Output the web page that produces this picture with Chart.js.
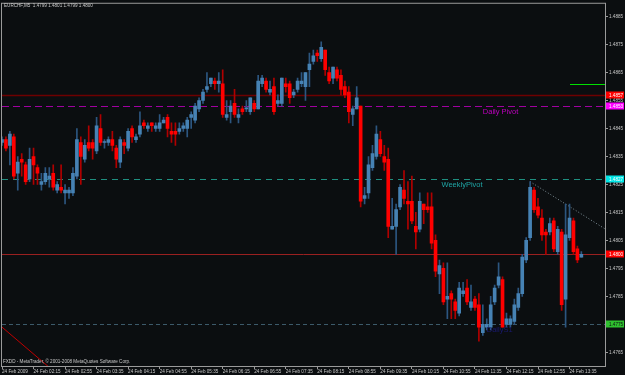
<!DOCTYPE html>
<html>
<head>
<meta charset="utf-8">
<script src="https://cdn.jsdelivr.net/npm/chart.js@4.4.1/dist/chart.umd.min.js"></script>
<style>
  html, body { margin: 0; padding: 0; background: #0b0e10; }
</style>
</head>
<body>
<canvas id="chart" width="625" height="375"></canvas>
<script>
// EURCHF M5, 24 Feb 2009 - one bar every 5 minutes starting at 01:35
const opens = [
  1.4840, 1.4841, 1.4839, 1.4842, 1.4829, 1.4834, 1.4832, 1.4827, 1.4835, 1.4831,
  1.4825, 1.4826, 1.4827, 1.4829, 1.4823, 1.4824, 1.4822, 1.4822, 1.4822, 1.4828,
  1.4840, 1.4834, 1.4840, 1.4840, 1.4837, 1.4845, 1.4840, 1.4840, 1.4841, 1.4838,
  1.4833, 1.4840, 1.4838, 1.4845, 1.4841, 1.4843, 1.4847, 1.4845, 1.4847, 1.4845,
  1.4845, 1.4847, 1.4849, 1.4844, 1.4844, 1.4844, 1.4845, 1.4845, 1.4849, 1.4848,
  1.4852, 1.4855, 1.4859, 1.4861, 1.4862, 1.4861, 1.4861, 1.4849, 1.4851, 1.4854,
  1.4849, 1.4852, 1.4852, 1.4851, 1.4854, 1.4852, 1.4861, 1.4862, 1.4858, 1.4860,
  1.4854, 1.4854, 1.4861, 1.4861, 1.4857, 1.4859, 1.4861, 1.4860, 1.4866, 1.4869,
  1.4872, 1.4870, 1.4873, 1.4865, 1.4863, 1.4866, 1.4864, 1.4860, 1.4858, 1.4850,
  1.4852, 1.4853, 1.4820, 1.4822, 1.4831, 1.4835, 1.4841, 1.4835, 1.4834, 1.4809,
  1.4810, 1.4817, 1.4823, 1.4819, 1.4819, 1.4810, 1.4809, 1.4818, 1.4817, 1.4817,
  1.4805, 1.4793, 1.4795, 1.4784, 1.4786, 1.4783, 1.4779, 1.4786, 1.4788, 1.4781,
  1.4784, 1.4782, 1.4772, 1.4774, 1.4774, 1.4783, 1.4789, 1.4791, 1.4775, 1.4775,
  1.4776, 1.4781, 1.4786, 1.4798, 1.4806, 1.4823, 1.4817, 1.4813, 1.4808, 1.4808,
  1.4812, 1.4801, 1.4808, 1.4784, 1.4806, 1.4812, 1.4802, 1.4799
];
const highs = [
  1.4842, 1.4842, 1.4844, 1.4843, 1.4835, 1.4836, 1.4833, 1.4838, 1.4838, 1.4832,
  1.4829, 1.4831, 1.4831, 1.4832, 1.4826, 1.4832, 1.4825, 1.4824, 1.4831, 1.4845,
  1.4842, 1.4841, 1.4846, 1.4841, 1.4849, 1.4850, 1.4841, 1.4842, 1.4844, 1.4839,
  1.4842, 1.4841, 1.4845, 1.4846, 1.4843, 1.4851, 1.4848, 1.4847, 1.4847, 1.4847,
  1.4850, 1.4849, 1.4850, 1.4847, 1.4847, 1.4847, 1.4847, 1.4849, 1.4851, 1.4854,
  1.4856, 1.4859, 1.4865, 1.4863, 1.4863, 1.4865, 1.4866, 1.4855, 1.4855, 1.4859,
  1.4852, 1.4853, 1.4855, 1.4856, 1.4855, 1.4864, 1.4864, 1.4863, 1.4862, 1.4863,
  1.4857, 1.4863, 1.4863, 1.4862, 1.4859, 1.4863, 1.4865, 1.4865, 1.4872, 1.4873,
  1.4873, 1.4876, 1.4873, 1.4867, 1.4867, 1.4867, 1.4866, 1.4862, 1.4860, 1.4853,
  1.4860, 1.4853, 1.4824, 1.4835, 1.4839, 1.4846, 1.4844, 1.4839, 1.4838, 1.4820,
  1.4818, 1.4825, 1.4830, 1.4826, 1.4828, 1.4815, 1.4822, 1.4818, 1.4822, 1.4822,
  1.4807, 1.4798, 1.4797, 1.4797, 1.4787, 1.4784, 1.4790, 1.4790, 1.4791, 1.4789,
  1.4785, 1.4786, 1.4782, 1.4777, 1.4785, 1.4789, 1.4797, 1.4792, 1.4779, 1.4778,
  1.4784, 1.4788, 1.4800, 1.4806, 1.4826, 1.4824, 1.4820, 1.4816, 1.4809, 1.4813,
  1.4813, 1.4810, 1.4809, 1.4818, 1.4818, 1.4813, 1.4803, 1.4801
];
const lows = [
  1.4839, 1.4837, 1.4832, 1.4827, 1.4823, 1.4828, 1.4825, 1.4826, 1.4825, 1.4825,
  1.4823, 1.4825, 1.4824, 1.4823, 1.4822, 1.4822, 1.4818, 1.4820, 1.4821, 1.4827,
  1.4825, 1.4833, 1.4837, 1.4834, 1.4836, 1.4839, 1.4838, 1.4839, 1.4837, 1.4831,
  1.4831, 1.4836, 1.4837, 1.4840, 1.4840, 1.4842, 1.4845, 1.4844, 1.4844, 1.4844,
  1.4844, 1.4847, 1.4842, 1.4840, 1.4839, 1.4843, 1.4844, 1.4842, 1.4845, 1.4847,
  1.4851, 1.4854, 1.4858, 1.4860, 1.4859, 1.4858, 1.4849, 1.4848, 1.4847, 1.4849,
  1.4847, 1.4850, 1.4851, 1.4850, 1.4851, 1.4852, 1.4860, 1.4858, 1.4857, 1.4850,
  1.4853, 1.4853, 1.4858, 1.4854, 1.4856, 1.4858, 1.4860, 1.4855, 1.4860, 1.4868,
  1.4869, 1.4869, 1.4864, 1.4861, 1.4861, 1.4862, 1.4857, 1.4856, 1.4847, 1.4846,
  1.4852, 1.4817, 1.4818, 1.4820, 1.4830, 1.4834, 1.4835, 1.4830, 1.4806, 1.4809,
  1.4800, 1.4816, 1.4818, 1.4809, 1.4811, 1.4802, 1.4808, 1.4811, 1.4815, 1.4802,
  1.4792, 1.4786, 1.4782, 1.4777, 1.4777, 1.4777, 1.4778, 1.4785, 1.4782, 1.4780,
  1.4780, 1.4769, 1.4771, 1.4773, 1.4773, 1.4782, 1.4788, 1.4774, 1.4774, 1.4774,
  1.4775, 1.4780, 1.4785, 1.4797, 1.4805, 1.4815, 1.4813, 1.4805, 1.4800, 1.4807,
  1.4801, 1.4800, 1.4780, 1.4774, 1.4805, 1.4800, 1.4797, 1.4799
];
const closes = [
  1.4841, 1.4838, 1.4843, 1.4828, 1.4833, 1.4833, 1.4826, 1.4834, 1.4832, 1.4829,
  1.4826, 1.4829, 1.4828, 1.4824, 1.4825, 1.4823, 1.4823, 1.4823, 1.4829, 1.4841,
  1.4835, 1.4839, 1.4838, 1.4838, 1.4846, 1.4840, 1.4840, 1.4841, 1.4839, 1.4834,
  1.4841, 1.4839, 1.4844, 1.4842, 1.4842, 1.4846, 1.4846, 1.4846, 1.4846, 1.4846,
  1.4847, 1.4848, 1.4845, 1.4843, 1.4843, 1.4845, 1.4846, 1.4848, 1.4850, 1.4853,
  1.4855, 1.4858, 1.4860, 1.4863, 1.4861, 1.4862, 1.4850, 1.4850, 1.4853, 1.4850,
  1.4850, 1.4851, 1.4852, 1.4856, 1.4852, 1.4862, 1.4863, 1.4859, 1.4859, 1.4851,
  1.4855, 1.4863, 1.4860, 1.4856, 1.4858, 1.4862, 1.4862, 1.4865, 1.4868, 1.4871,
  1.4871, 1.4874, 1.4866, 1.4862, 1.4867, 1.4863, 1.4859, 1.4857, 1.4851, 1.4852,
  1.4856, 1.4819, 1.4821, 1.4832, 1.4836, 1.4843, 1.4836, 1.4833, 1.4810, 1.4810,
  1.4816, 1.4824, 1.4820, 1.4818, 1.4812, 1.4808, 1.4819, 1.4816, 1.4816, 1.4804,
  1.4794, 1.4796, 1.4783, 1.4785, 1.4784, 1.4780, 1.4788, 1.4787, 1.4783, 1.4783,
  1.4781, 1.4774, 1.4775, 1.4775, 1.4782, 1.4788, 1.4792, 1.4774, 1.4777, 1.4777,
  1.4782, 1.4786, 1.4799, 1.4805, 1.4824, 1.4816, 1.4814, 1.4807, 1.4807, 1.4811,
  1.4802, 1.4809, 1.4782, 1.4807, 1.4813, 1.4801, 1.4798, 1.4800
];

// one label every 8 bars (40 minutes)
const tickLabels = [
  "24 Feb 2009", "24 Feb 02:15", "24 Feb 02:55", "24 Feb 03:35", "24 Feb 04:15",
  "24 Feb 04:55", "24 Feb 05:35", "24 Feb 06:15", "24 Feb 06:55", "24 Feb 07:35",
  "24 Feb 08:15", "24 Feb 08:55", "24 Feb 09:35", "24 Feb 10:15", "24 Feb 10:55",
  "24 Feb 11:35", "24 Feb 12:15", "24 Feb 12:55", "24 Feb 13:35"
];
const priceTicks = [1.4765, 1.4775, 1.4785, 1.4795, 1.4805, 1.4815, 1.4825,
  1.4835, 1.4845, 1.4855, 1.4865, 1.4875, 1.4885];

// horizontal objects on the chart
const levelValues = [1.4857, 1.4853, 1.4827, 1.4800, 1.4775];
const levelNames = ["", "Daily Pivot", "WeeklyPivot", "", "DailyS1"];
const greenLevel = 1.4861;
const greenFromBar = 144;
// trend lines (two anchor bars / prices each)
const rayBars = [134, 143];
const rayPrices = [1.4826, 1.4818];
const lowTrendBars = [0, 10];
const lowTrendPrices = [1.4774, 1.4762];

const barsPerTick = 8;
const slotCount = 154; // bars + empty shift on the right

const levelStyles = [
  { line: '#6e0000', width: 1.5, dash: [], box: '#ff0000', boxText: '#ffffff' },
  { line: '#a000a0', width: 1, dash: [7, 4], box: '#ff00ff', boxText: '#ffffff', text: '#c000c0', textBar: 122 },
  { line: '#1f8f80', width: 1, dash: [6, 5], box: '#00e5e5', boxText: '#ffffff', text: '#1fa5a5', textBar: 111.5 },
  { line: '#9a2020', width: 1, dash: [], box: '#ff0000', boxText: '#ffffff' },
  { line: '#3c5a6a', width: 1, dash: [4, 3], box: '#2fc02f', boxText: '#0b0e10', text: '#1a1a70', textBar: 123 }
];

const BG = '#0b0e10';
const FRAME = '#9a9a9a';
const TXT = '#c8c8c8';
const FONT = 'Liberation Sans, Arial, sans-serif';
const BULL = '#4682b4', BEAR = '#ff0000';
const BULL_WICK = '#2c5680', BEAR_WICK = '#b00000';

const isBull = opens.map((o, i) => closes[i] >= o);
const slots = [];
for (let i = 0; i < slotCount; i++) slots.push(i);

const mtPlugin = {
  id: 'mt',
  beforeDraw(chart) {
    const ctx = chart.ctx;
    ctx.save();
    ctx.fillStyle = BG;
    ctx.fillRect(0, 0, chart.width, chart.height);
    ctx.restore();
  },
  beforeDatasetsDraw(chart) {
    const { ctx, chartArea: a, scales: { x, y } } = chart;
    ctx.save();
    ctx.beginPath();
    ctx.rect(a.left, a.top, a.right - a.left, a.bottom - a.top);
    ctx.clip();
    levelValues.forEach((v, i) => {
      const s = levelStyles[i];
      const py = Math.round(y.getPixelForValue(v)) + 0.5;
      ctx.strokeStyle = s.line;
      ctx.lineWidth = s.width;
      ctx.setLineDash(s.dash);
      ctx.beginPath();
      ctx.moveTo(a.left, py);
      ctx.lineTo(a.right, py);
      ctx.stroke();
    });
    ctx.setLineDash([]);
    // green short line
    const gy = Math.round(y.getPixelForValue(greenLevel)) + 0.5;
    ctx.strokeStyle = '#00e000';
    ctx.lineWidth = 1;
    ctx.beginPath();
    ctx.moveTo(Math.round(x.getPixelForValue(greenFromBar)), gy);
    ctx.lineTo(a.right, gy);
    ctx.stroke();
    // dotted ray from the two highs
    const x1 = x.getPixelForValue(rayBars[0]), y1 = y.getPixelForValue(rayPrices[0]);
    const x2 = x.getPixelForValue(rayBars[1]), y2 = y.getPixelForValue(rayPrices[1]);
    const k = (y2 - y1) / (x2 - x1);
    ctx.strokeStyle = '#7f9098';
    ctx.setLineDash([1, 2]);
    ctx.beginPath();
    ctx.moveTo(x1, y1);
    ctx.lineTo(a.right, y1 + k * (a.right - x1));
    ctx.stroke();
    ctx.restore();
    // red trend line bottom left (runs into the copyright line)
    const lx1 = x.getPixelForValue(lowTrendBars[0]), ly1 = y.getPixelForValue(lowTrendPrices[0]);
    const lx2 = x.getPixelForValue(lowTrendBars[1]), ly2 = y.getPixelForValue(lowTrendPrices[1]);
    const lk = (ly2 - ly1) / (lx2 - lx1);
    ctx.save();
    ctx.beginPath();
    ctx.rect(a.left, a.top, a.right - a.left, a.bottom - a.top);
    ctx.clip();
    ctx.strokeStyle = '#c00000';
    ctx.lineWidth = 1;
    ctx.beginPath();
    ctx.moveTo(a.left - 5, ly1 + lk * (a.left - 5 - lx1));
    ctx.lineTo(lx1 + (a.bottom + 10 - ly1) / lk, a.bottom + 10);
    ctx.stroke();
    ctx.restore();
  },
  afterDatasetsDraw(chart) {
    const { ctx, scales: { x, y } } = chart;
    ctx.save();
    ctx.font = '7.5px ' + FONT;
    ctx.textBaseline = 'top';
    levelValues.forEach((v, i) => {
      const s = levelStyles[i];
      if (!levelNames[i]) return;
      ctx.fillStyle = s.text;
      ctx.fillText(levelNames[i], x.getPixelForValue(s.textBar), y.getPixelForValue(v) + 2);
    });
    ctx.restore();
  },
  afterDraw(chart) {
    const { ctx, chartArea: a, scales: { y } } = chart;
    ctx.save();
    // frame
    ctx.strokeStyle = FRAME;
    ctx.lineWidth = 1;
    ctx.strokeRect(a.left - 0.5, a.top - 0.5, a.right - a.left + 1, a.bottom - a.top + 1);
    // price boxes on the axis
    ctx.font = '4.6px ' + FONT;
    ctx.textBaseline = 'middle';
    levelValues.forEach((v, i) => {
      const s = levelStyles[i];
      const py = Math.round(y.getPixelForValue(v));
      ctx.fillStyle = s.box;
      ctx.fillRect(a.right + 1, py - 3.5, 18, 7);
      ctx.fillStyle = s.boxText;
      ctx.fillText(v.toFixed(4), a.right + 4, py + 0.5);
    });
    // title and copyright
    ctx.fillStyle = TXT;
    ctx.textBaseline = 'top';
    ctx.fillText('EURCHF,M5  ' + [opens, highs, lows, closes].map(s => s[s.length - 1].toFixed(4)).join(' '), 4, 3);
    ctx.fillText('FXDD - MetaTrader, \u00a9 2001-2008 MetaQuotes Software Corp.', 3, 359);
    ctx.restore();
  }
};

new Chart(document.getElementById('chart'), {
  type: 'bar',
  data: {
    labels: slots,
    datasets: [
      {
        label: 'wick',
        data: highs.map((h, i) => [lows[i], h]),
        backgroundColor: isBull.map(b => b ? BULL_WICK : BEAR_WICK),
        barThickness: 1,
        grouped: false,
        order: 2
      },
      {
        label: 'body',
        data: opens.map((o, i) => [o, closes[i]]),
        backgroundColor: isBull.map(b => b ? BULL : BEAR),
        barThickness: 3,
        minBarLength: 1,
        grouped: false,
        order: 1
      }
    ]
  },
  plugins: [mtPlugin],
  options: {
    responsive: false,
    animation: false,
    layout: { padding: { left: 2, top: 2 } },
    plugins: { legend: { display: false }, tooltip: { enabled: false } },
    scales: {
      x: {
        offset: false,
        grid: {
          offset: false,
          drawOnChartArea: false,
          tickLength: 3,
          color: c => (c.index % barsPerTick === 0 && c.index / barsPerTick < tickLabels.length) ? FRAME : 'rgba(0,0,0,0)'
        },
        border: { display: false },
        ticks: {
          autoSkip: false,
          maxRotation: 0,
          align: 'start',
          padding: 0,
          color: TXT,
          font: { family: FONT, size: 4.6 },
          callback: (v, i) => (i % barsPerTick === 0 && i / barsPerTick < tickLabels.length) ? tickLabels[i / barsPerTick] : ''
        },
        afterFit: s => { s.height = 9; }
      },
      y: {
        position: 'right',
        min: 1.47601,
        max: 1.48896,
        grid: { drawOnChartArea: false, tickLength: 3, color: FRAME },
        border: { display: false },
        afterBuildTicks: s => { s.ticks = priceTicks.map(v => ({ value: v })); },
        ticks: {
          padding: 1,
          color: TXT,
          font: { family: FONT, size: 4.6 },
          callback: v => v.toFixed(4)
        },
        afterFit: s => { s.width = 20; }
      }
    }
  }
});
</script>
</body>
</html>
